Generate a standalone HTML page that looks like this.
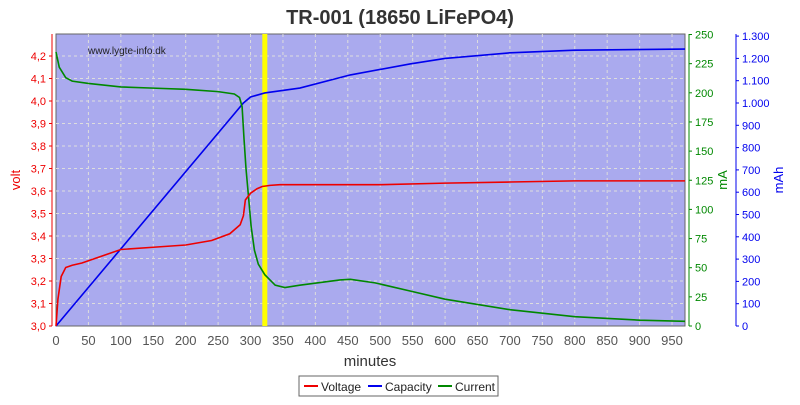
<!DOCTYPE html>
<html><head><meta charset="utf-8"><style>
body{margin:0;background:#fff;width:800px;height:400px;overflow:hidden;font-family:"Liberation Sans",sans-serif}
</style></head><body>
<svg width="800" height="400" xmlns="http://www.w3.org/2000/svg" id="c">
<text x="400" y="24" text-anchor="middle" font-size="20" font-weight="bold" fill="#333">TR-001 (18650 LiFePO4)</text>
<rect x="56" y="34" width="629" height="292" fill="#aaaaee" stroke="#666"/>
<g id="grid"></g>
<text x="88" y="54" font-size="10" fill="#222">www.lygte-info.dk</text>
<rect x="263" y="34" width="5" height="292" fill="#ffff00" id="mk"/>
<g id="series"></g>
<g id="axes"></g>
<text transform="translate(20,180) rotate(-90)" text-anchor="middle" font-size="13" fill="#e00">volt</text>
<text transform="translate(727,180) rotate(-90)" text-anchor="middle" font-size="13" fill="#080">mA</text>
<text transform="translate(783,180) rotate(-90)" text-anchor="middle" font-size="13" fill="#00e">mAh</text>
<text x="370" y="366" text-anchor="middle" font-size="15" fill="#333">minutes</text>
<g>
<rect x="299" y="376" width="199" height="20" fill="#fff" stroke="#666"/>
<line x1="304" y1="386" x2="318" y2="386" stroke="#e00" stroke-width="2"/><text x="321" y="391" font-size="12" fill="#222">Voltage</text>
<line x1="368" y1="386" x2="382" y2="386" stroke="#00e" stroke-width="2"/><text x="385" y="391" font-size="12" fill="#222">Capacity</text>
<line x1="438" y1="386" x2="452" y2="386" stroke="#080" stroke-width="2"/><text x="455" y="391" font-size="12" fill="#222">Current</text>
</g>
</svg>
<script>
const xTicks=[0,50,100,150,200,250,300,350,400,450,500,550,600,650,700,750,800,850,900,950];
const voltTicks=[3.0,3.1,3.2,3.3,3.4,3.5,3.6,3.7,3.8,3.9,4.0,4.1,4.2];
const maTicks=[0,25,50,75,100,125,150,175,200,225,250];
const mahTicks=[0,100,200,300,400,500,600,700,800,900,1000,1100,1200,1300];
const markerMin=322;
const voltT=[0,3,8,15,25,40,60,80,100,150,200,240,268,284,289,292,300,310,318,330,345,500,600,700,800,970];
const voltV=[3.0,3.12,3.22,3.26,3.27,3.28,3.3,3.32,3.34,3.35,3.36,3.38,3.41,3.45,3.49,3.56,3.59,3.61,3.62,3.625,3.628,3.628,3.635,3.64,3.645,3.645];
const capT=[0,289,300,322,376,454,546,600,700,800,970];
const capV=[0,1000,1027,1045,1067,1126,1175,1200,1225,1237,1242];
const curT=[0,5,15,25,50,100,150,200,250,275,283,287,290,293,297,301,306,312,322,338,353,376,438,454,492,546,600,700,800,900,970];
const curV=[235,222,213,210,208,205,204,203,201,199,196,188,160,135,110,85,65,53,44,35,33,35,39.5,40,37,30,23,14,8,5,4];
const X=t=>56+t*629/970, YV=v=>326-(v-3)*225, YA=v=>326-v*291.5/250, YH=v=>326-v*0.223;
const NS="http://www.w3.org/2000/svg";
function mk(tag,attrs,parent,txt){const e=document.createElementNS(NS,tag);for(const k in attrs)e.setAttribute(k,attrs[k]);if(txt!==undefined)e.textContent=txt;parent.appendChild(e);return e;}
const g=document.getElementById('grid'),ax=document.getElementById('axes'),s=document.getElementById('series');
document.getElementById('mk').setAttribute('x',X(markerMin)-2.5);
xTicks.forEach(t=>{if(t>0){const l=mk('line',{x1:X(t),x2:X(t),y1:34,y2:326,stroke:'#ddd','stroke-dasharray':'3,3'},g);}
const tx=mk('text',{x:X(t),y:345,'text-anchor':'middle','font-size':13,fill:'#555'},ax,t);});
mk('line',{x1:52,x2:52,y1:34,y2:326,stroke:'#e00'},ax);
voltTicks.forEach(v=>{const y=YV(v);if(v>3){const l=mk('line',{x1:56,x2:685,y1:y,y2:y,stroke:'#ddd','stroke-dasharray':'3,3'},g);}
mk('line',{x1:49,x2:52,y1:y,y2:y,stroke:'#e00'},ax);
const tx=mk('text',{x:46,y:y+4,'text-anchor':'end','font-size':11,fill:'#e00'},ax,v.toFixed(1).replace('.',','));});
mk('line',{x1:689,x2:689,y1:34,y2:326,stroke:'#080'},ax);
maTicks.forEach(v=>{const y=YA(v);mk('line',{x1:689,x2:692,y1:y,y2:y,stroke:'#080'},ax);
const tx=mk('text',{x:695,y:y+4,'font-size':11,fill:'#080'},ax,v);});
mk('line',{x1:736,x2:736,y1:34,y2:326,stroke:'#00e'},ax);
mahTicks.forEach(v=>{const y=YH(v);mk('line',{x1:736,x2:739,y1:y,y2:y,stroke:'#00e'},ax);
const tx=mk('text',{x:742,y:y+4,'font-size':11,fill:'#00e'},ax,v>=1000?(v/1000).toFixed(3):v);});
function line(T,V,fy,col,name){const p=mk('polyline',{points:T.map((t,i)=>X(t)+','+fy(V[i])).join(' '),fill:'none',stroke:col,'stroke-width':1.6},s);

}
line(capT,capV,YH,'#00e','capacity-line');
line(curT,curV,YA,'#080','current-line');
line(voltT,voltV,YV,'#e00','voltage-line');
</script>
</body></html>
